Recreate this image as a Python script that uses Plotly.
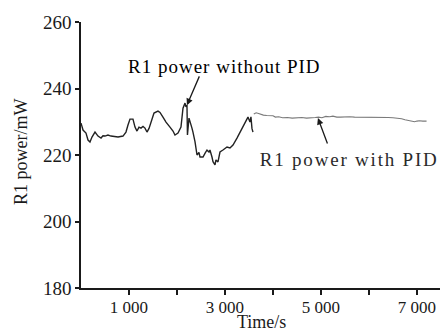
import plotly.graph_objects as go

# Data
time_no_pid = [0, 21, 42, 104, 146, 187, 229, 292, 354, 417, 458, 500, 562, 625, 708, 771, 875, 937, 979,
               1021, 1083, 1125, 1167, 1208, 1250, 1292, 1333, 1375, 1417, 1458, 1521, 1604, 1646, 1708,
               1771, 1854, 1917, 1958, 2021, 2083, 2125, 2167, 2187, 2208, 2218, 2250, 2292, 2312, 2333,
               2375, 2417, 2458, 2479, 2542, 2583, 2625, 2667, 2687, 2729, 2750, 2792, 2812, 2854, 2896,
               2958, 3042, 3104, 3167, 3250, 3312, 3375, 3437, 3479, 3521, 3541, 3562, 3583]
power_no_pid = [229.6, 228.5, 227.5, 226.6, 224.5, 223.9, 225.4, 226.9, 225.7, 225.1, 225.8, 225.7, 226.0,
                225.7, 225.5, 225.4, 225.7, 226.9, 229.0, 230.8, 230.8, 228.4, 227.2, 228.4, 228.1, 228.6,
                228.1, 226.9, 228.0, 229.6, 232.6, 233.2, 232.8, 231.4, 229.9, 228.4, 227.2, 226.0, 226.6,
                228.4, 234.1, 235.6, 234.5, 235.0, 226.0, 231.1, 229.5, 228.1, 226.9, 224.0, 220.0, 220.8,
                219.4, 219.4, 220.5, 221.5, 220.9, 221.5, 219.4, 218.0, 217.0, 218.5, 217.9, 220.9, 221.5,
                222.4, 222.1, 223.0, 225.1, 226.9, 228.4, 230.5, 231.4, 229.9, 231.5, 228.0, 226.9]

time_pid = [3600, 3650, 3700, 3750, 3800, 3870, 3950, 4000, 4050, 4120, 4200, 4300, 4400, 4500, 4600,
            4700, 4800, 4880, 4950, 5020, 5100, 5180, 5250, 5330, 5400, 5500, 5600, 5700, 5800, 5900,
            6000, 6100, 6200, 6300, 6400, 6500, 6600, 6680, 6750, 6800, 6850, 6900, 6950, 7000, 7050,
            7120, 7200]
power_pid = [232.3, 232.7, 232.5, 232.2, 232.0, 231.9, 231.7, 231.8, 231.4, 231.5, 231.2, 231.3, 231.1,
             231.2, 231.3, 231.1, 231.1, 231.3, 231.4, 231.2, 231.6, 231.5, 231.7, 231.4, 231.4, 231.5,
             231.5, 231.4, 231.4, 231.5, 231.4, 231.5, 231.5, 231.4, 231.3, 231.2, 231.1, 230.9, 230.6,
             230.4, 230.2, 230.1, 230.0, 230.2, 230.3, 230.2, 230.2]

x_tickvals = [1000, 2000, 3000, 4000, 5000, 6000, 7000]
x_ticktext = ["1 000", "", "3 000", "", "5 000", "", "7 000"]
y_tickvals = [180, 200, 220, 240, 260]
y_ticktext = ["180", "200", "220", "240", "260"]

label_no_pid = "R1 power without PID"
label_pid = "R1 power with PID"
x_title = "Time/s"
y_title = "R1 power/mW"

FONT = "Liberation Serif, Times New Roman, serif"
INK = "#1a1a1a"

W, H = 440, 331
ML, MR, MT, MB = 81, 0, 22, 43
plot_w = W - ML - MR
plot_h = H - MT - MB

fig = go.Figure()
fig.add_trace(go.Scatter(x=time_no_pid, y=power_no_pid, mode="lines",
                         line=dict(color="#222222", width=1.4), showlegend=False))
fig.add_trace(go.Scatter(x=time_pid, y=power_pid, mode="lines",
                         line=dict(color="#7a7a7a", width=1.1), showlegend=False))

fig.update_layout(
    width=W, height=H,
    margin=dict(l=ML, r=MR, t=MT, b=MB),
    paper_bgcolor="white", plot_bgcolor="white",
    font=dict(family=FONT, color=INK, size=18),
    xaxis=dict(range=[0, 7480], tickvals=x_tickvals, ticktext=x_ticktext,
               showline=True, linecolor=INK, linewidth=1.5,
               ticks="outside", ticklen=5, tickwidth=1.5, tickcolor=INK,
               ticklabelstandoff=-2,
               showgrid=False, zeroline=False, tickfont=dict(size=17)),
    yaxis=dict(range=[180, 260], tickvals=y_tickvals, ticktext=y_ticktext,
               showline=True, linecolor=INK, linewidth=1.5,
               ticks="outside", ticklen=4, tickwidth=1.5, tickcolor=INK,
               showgrid=False, zeroline=False, tickfont=dict(size=19)),
    annotations=[
        dict(x=2208, y=235, xref="x", yref="y", ax=2479, ay=244.1, axref="x", ayref="y",
             text="", showarrow=True, arrowhead=2, arrowsize=1, arrowwidth=1.3, arrowcolor=INK),
        dict(x=3000, y=246.5, xref="x", yref="y", text=label_no_pid, showarrow=False,
             font=dict(size=19, family=FONT, color="#000000")),
        dict(x=4937, y=231.1, xref="x", yref="y", ax=5146, ay=223, axref="x", ayref="y",
             text="", showarrow=True, arrowhead=2, arrowsize=1, arrowwidth=1.3, arrowcolor=INK),
        dict(x=5594, y=218.5, xref="x", yref="y", text=label_pid, showarrow=False,
             font=dict(size=19, family=FONT, color="#2a2a2a")),
        dict(x=(261 - ML) / plot_w, y=(H - MB - 322) / plot_h, xref="paper", yref="paper",
             text=x_title, showarrow=False, xanchor="center", yanchor="middle",
             font=dict(size=18, family=FONT)),
        dict(x=(21 - ML) / plot_w, y=(H - MB - 152) / plot_h, xref="paper", yref="paper",
             text=y_title, showarrow=False, textangle=-90, xanchor="center", yanchor="middle",
             font=dict(size=18, family=FONT)),
    ],
)

post = """
document.body.style.margin = '0';
document.body.style.padding = '0';
var gd = document.getElementsByClassName('plotly-graph-div')[0];
function spacing(){
  var t = gd.querySelectorAll('.annotation-text');
  t.forEach(function(e){
    var s = e.textContent;
    if (s === 'R1 power without PID') e.style.letterSpacing = '1px';
    if (s === 'R1 power with PID') e.style.letterSpacing = '1.8px';
  });
}
spacing();
gd.on && gd.on('plotly_afterplot', spacing);
"""
fig.write_html("out.html", post_script=post, config={"displayModeBar": False})
